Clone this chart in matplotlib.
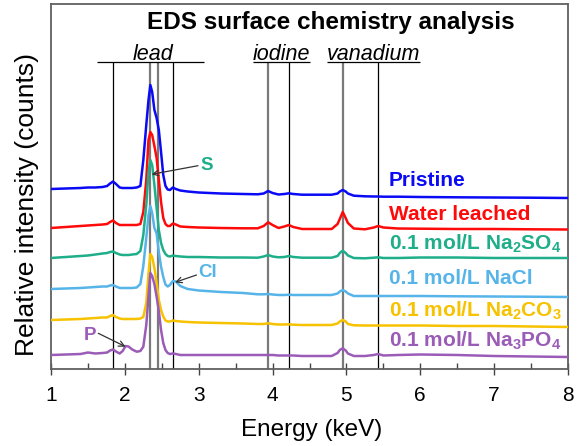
import matplotlib
matplotlib.use("Agg")
import matplotlib.pyplot as plt

plt.rcParams['font.family'] = ['Liberation Sans', 'DejaVu Sans']
plt.rcParams['mathtext.fontset'] = 'custom'
plt.rcParams['mathtext.rm'] = 'Liberation Sans:bold'

# energy grid (keV) shared by all spectra
energy = [1.00, 1.20, 1.40, 1.50, 1.60, 1.70,
          1.76, 1.80, 1.84, 1.88, 1.93, 1.97,
          2.01, 2.05, 2.10, 2.16, 2.21, 2.25,
          2.29, 2.32, 2.345, 2.37, 2.40, 2.43,
          2.46, 2.49, 2.52, 2.55, 2.58, 2.61,
          2.65, 2.69, 2.75, 2.85, 3.00, 3.30,
          3.60, 3.80, 3.88, 3.94, 4.00, 4.08,
          4.16, 4.22, 4.28, 4.40, 4.60, 4.80,
          4.88, 4.91, 4.95, 4.99, 5.02, 5.10,
          5.25, 5.37, 5.43, 5.50, 5.70, 6.00,
          6.50, 7.00, 7.50, 8.00]

# stacked spectra (relative counts, already offset)
pristine = [180, 180.5, 181, 181.5, 181.5, 182,
            183, 185.5, 187.5, 185, 181.5, 181,
            181, 181, 181, 181.5, 183, 209,
            244, 269, 284, 277, 259, 251,
            239, 217, 194, 183, 179.5, 179,
            181.5, 180, 178.5, 177.5, 176.5, 175.5,
            175, 174.7, 175.5, 178, 176, 174.5,
            175, 175.7, 175, 174.3, 174.3, 174.3,
            175.5, 177.5, 179, 177.5, 175.5, 173.3,
            172.7, 172.5, 172.5, 172.3, 172.3, 172,
            171.7, 171.5, 171.3, 171]

water = [141, 142, 143, 143.5, 144, 144.5,
         145, 147, 148.5, 146, 144, 144,
         144, 144, 144, 144, 145, 157,
         189, 229, 237, 234, 223, 211,
         189, 167, 151, 145, 143, 143,
         145.5, 144.5, 142.5, 142, 141.5, 141,
         140.7, 140.7, 143, 146.7, 144, 141,
         142.5, 144, 142, 140, 140, 140,
         145, 150, 157, 151, 146, 140.5,
         139.7, 141.5, 143, 141.5, 140.5, 140.3,
         140, 140, 139.7, 139.5]

sulfate = [111, 112, 113, 113.5, 114.5, 115.5,
           116, 117, 117.5, 116, 114.5, 114,
           114, 114, 114.5, 115, 118, 134,
           164, 197, 209, 204, 184, 161,
           139, 126, 119, 115, 113, 112.5,
           113.5, 113, 112.5, 112, 112, 111.5,
           111.5, 111.3, 112.5, 114, 112.5, 111.7,
           112, 113, 112, 111.3, 111.3, 111.3,
           113, 116, 118.3, 116, 113.5, 111,
           110.7, 111.3, 111.7, 111, 111, 111.5,
           111.5, 111, 111, 111]

chloride = [80, 80.5, 81, 81.5, 82, 82.5,
            82.5, 83.5, 84, 82.5, 81, 81,
            81, 81, 81, 81.5, 85, 103,
            131, 154, 163, 156, 141, 135.5,
            117, 102.3, 92, 84.5, 82.5, 84,
            88, 87.5, 83, 80, 78.5, 77,
            76, 74.7, 74.7, 75, 74.5, 74,
            74, 74.3, 74, 74, 74, 74,
            75.5, 77.5, 79, 77.5, 75.5, 73,
            73, 73, 73, 73, 73, 73,
            72.7, 72.5, 72.3, 72]

carbonate = [49, 49.5, 50, 50.5, 51, 51.5,
             51.5, 53, 54, 52, 50.5, 50,
             50, 50, 50, 50, 50.5, 52,
             66, 95, 115, 112, 101, 86,
             69, 59, 52.5, 48.5, 47.5, 47.5,
             48.5, 48, 47.5, 47, 46.5, 46,
             45.5, 45, 45, 45.7, 45, 44.5,
             44.5, 44.7, 44.3, 44, 44, 44,
             45.5, 47.5, 49, 47.5, 45, 43.7,
             43.5, 43.5, 43.5, 43.5, 43.5, 43.5,
             43, 43, 42.5, 42]

phosphate = [14, 14.5, 15, 16.5, 15.5, 16,
             16.5, 18.5, 19.5, 17.5, 15.5, 18,
             23, 22.5, 19.5, 17.3, 18, 22.3,
             44, 73, 96, 93, 85, 72.3,
             58, 39, 26, 19, 16, 15,
             15.5, 15, 14, 14, 14, 14,
             14, 14, 14, 14, 14, 13.5,
             13.5, 13.5, 13.5, 13, 13, 13,
             16, 19, 20.7, 18.5, 15.5, 13,
             13, 14, 15, 13.5, 14, 14.5,
             14, 13, 12.5, 12]

series = [pristine, water, sulfate, chloride, carbonate, phosphate]
labels = ['Pristine', 'Water leached',
          '0.1 mol/L Na$_2$SO$_4$', '0.1 mol/L NaCl',
          '0.1 mol/L Na$_2$CO$_3$', '0.1 mol/L Na$_3$PO$_4$']
label_y = [183, 149, 119.7, 84.7, 53, 22.3]
colors = ['#0a0af5', '#ff0a0a', '#1fae8a', '#56b4e9', '#f7c200', '#9b5cb8']

# characteristic lines (keV); major lines drawn grey, minor ones black
lead_lines = [1.84, 2.345, 2.443, 2.653]
iodine_lines = [3.937, 4.221]
vanadium_lines = [4.952, 5.427]
major_lines = [2.345, 2.443, 3.937, 4.952]

fig = plt.figure(figsize=(5.77, 4.46), dpi=100)
ax = fig.add_axes([51 / 577, 77 / 446, 517 / 577, 365 / 446])

line_top = 307
for e in lead_lines + iodine_lines + vanadium_lines:
    if e in major_lines:
        ax.vlines(e, 0, line_top, color='#7a7a7a', lw=1.6, zorder=1)
    else:
        ax.vlines(e, 0, line_top, color='black', lw=0.9, zorder=1)

# element group brackets
ax.hlines(line_top, 1.62, 3.07, color='black', lw=0.9)
ax.hlines(line_top, 3.73, 4.50, color='black', lw=0.9)
ax.hlines(line_top, 4.74, 5.99, color='black', lw=0.9)
for name, xc in [('lead', 2.38), ('iodine', 4.12), ('vanadium', 5.37)]:
    ax.text(xc, line_top + 2.5, name, ha='center', va='baseline',
            fontsize=15.5, style='italic')

for y, c in zip(series, colors):
    ax.plot(energy, y, color=c, lw=1.8, zorder=3)

for lab, y, c in zip(labels, label_y, colors):
    ax.text(5.578, y, lab, color=c, fontsize=15, fontweight='bold',
            ha='left', va='baseline', zorder=4)

ax.text(4.79, 339.7, 'EDS surface chemistry analysis', ha='center',
        va='baseline', fontsize=17.5, fontweight='bold')

# element markers
arrow = dict(arrowstyle='->', color='#333333', lw=0.9, shrinkA=0, shrinkB=0)
ax.annotate('', xy=(2.363, 194.7), xytext=(2.99, 203.3), arrowprops=arrow, zorder=5)
ax.text(3.107, 204, 'S', color=colors[2], fontsize=13.5, fontweight='bold',
        ha='center', va='center')
ax.annotate('', xy=(2.68, 86.7), xytext=(2.97, 94), arrowprops=arrow, zorder=5)
ax.text(2.993, 96.5, 'Cl', color=colors[3], fontsize=13.5, fontweight='bold',
        ha='left', va='center')
ax.annotate('', xy=(2.01, 22.3), xytext=(1.64, 35.7), arrowprops=arrow, zorder=5)
ax.text(1.534, 34, 'P', color=colors[5], fontsize=13.5, fontweight='bold',
        ha='center', va='center')

ax.set_xlim(1, 8)
ax.set_ylim(0, 365)
ax.set_xticks(range(1, 9))
ax.set_xticks([1.5 + i for i in range(7)], minor=True)
ax.set_yticks([])
ax.tick_params(axis='x', which='major', direction='inout', length=8,
               width=1, labelsize=15, pad=8, color='#444444')
ax.tick_params(axis='x', which='minor', direction='in', length=4,
               width=1, color='#444444')
for s in ax.spines.values():
    s.set_color('#606060')
    s.set_linewidth(1.3)

ax.set_xlabel('Energy (keV)', fontsize=17.5)
ax.xaxis.set_label_coords(0.505, -0.138)
ax.set_ylabel('Relative intensity (counts)', fontsize=19)
ax.yaxis.set_label_coords(-0.024, 0.452)

fig.savefig('out.png', dpi=100)
